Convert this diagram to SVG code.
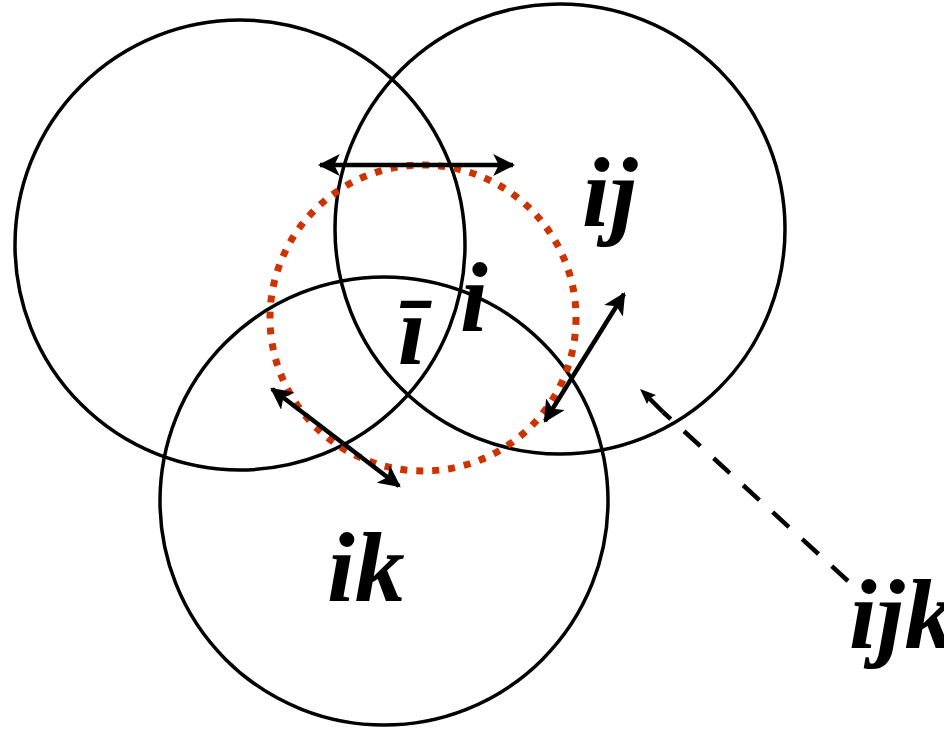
<svg xmlns="http://www.w3.org/2000/svg" width="944" height="729" viewBox="0 0 944 729">
<style>
.c{fill:none;stroke:#000;stroke-width:3.5}
.r{fill:none;stroke:#CC3300;stroke-width:7;stroke-dasharray:7 9}
.a{stroke:#000;stroke-width:4.5;fill:none}
.d{stroke:#000;stroke-width:4.5;fill:none;stroke-dasharray:22 18}
.t{font-family:"Liberation Serif","Times New Roman",serif;font-style:italic;font-weight:bold;font-size:100px;fill:#000}
</style>
<defs>
<marker id="ah2" viewBox="0 0 10 10" refX="9" refY="5" markerWidth="22" markerHeight="22" markerUnits="userSpaceOnUse" orient="auto-start-reverse">
<path d="M0,0 L10,5 L0,10 L2.5,5 Z" fill="#000"/>
</marker>
</defs>
<g id="circle-a"><circle class="c" cx="240" cy="245" r="225"/></g>
<g id="circle-b"><circle class="c" cx="560" cy="229" r="225"/></g>
<g id="circle-c"><circle class="c" cx="384" cy="501" r="224"/></g>
<g id="circle-red"><circle class="r" cx="423" cy="318" r="153"/></g>
<g id="connectors">
<line class="a" x1="320" y1="165" x2="513" y2="165" marker-start="url(#ah2)" marker-end="url(#ah2)"/>
<line class="a" x1="624" y1="294" x2="545" y2="421" marker-start="url(#ah2)" marker-end="url(#ah2)"/>
<line class="a" x1="272" y1="389" x2="399" y2="486" marker-start="url(#ah2)" marker-end="url(#ah2)"/>
<line class="d" x1="848" y1="581" x2="663" y2="412"/>
<path d="M640,389 L656,395 L650,398 L647,404 Z" fill="#000"/>
<line x1="648" y1="397" x2="663" y2="412" stroke="#000" stroke-width="4.5"/>
</g>
<g id="label-ij"><text class="t" x="582" y="226">ij</text></g>
<g id="label-i"><text class="t" x="460" y="331">i</text></g>
<g id="label-ibar"><text class="t" x="398" y="364">ī</text></g>
<g id="label-ik"><text class="t" x="327" y="601">ik</text></g>
<g id="label-ijk"><text class="t" x="849" y="648">ijk</text></g>
</svg>
